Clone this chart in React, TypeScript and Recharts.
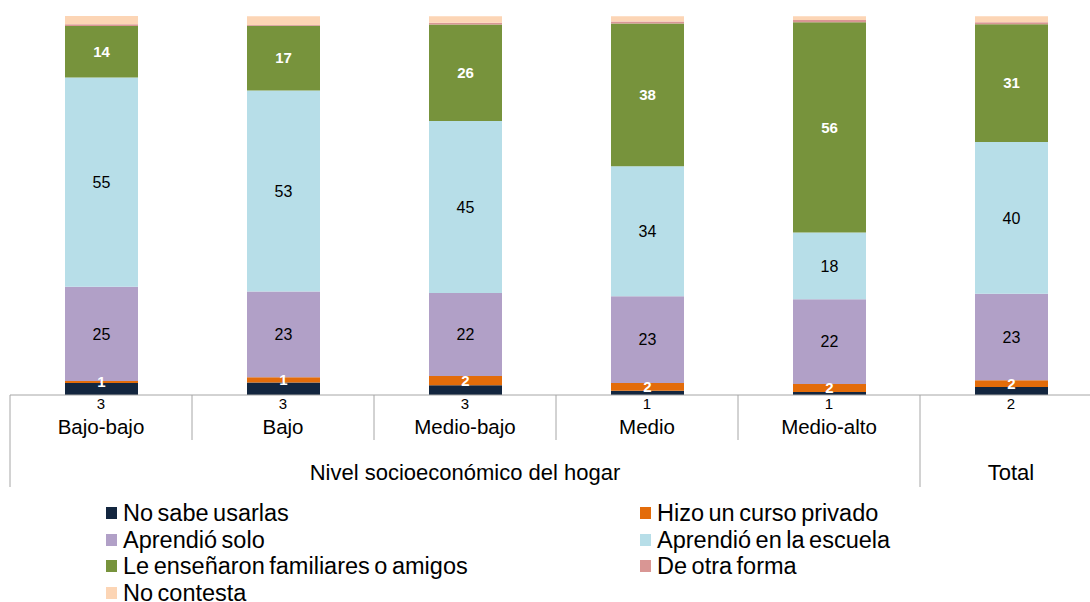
import React from "react";
import { BarChart, Bar, XAxis, YAxis, LabelList } from "recharts";

const categories = ["Bajo-bajo", "Bajo", "Medio-bajo", "Medio", "Medio-alto", "Total"];
const groupLabels = ["Nivel socioeconómico del hogar", "Total"];

const noSabe = [3.2, 3.3, 2.6, 1.1, 0.8, 2.1];
const cursoPrivado = [0.5, 1.4, 2.4, 2.1, 2.1, 1.8];
const aprendioSolo = [24.9, 22.6, 21.9, 22.9, 22.4, 22.8];
const escuela = [55.2, 53.1, 45.4, 34.3, 17.6, 40.1];
const familiares = [13.6, 17.1, 25.5, 37.7, 55.5, 31.1];
const otraForma = [0.45, 0.2, 0.5, 0.5, 0.6, 0.5];
const noContesta = [2.2, 2.3, 1.7, 1.4, 1.0, 1.6];

const series = [
  { key: "noSabe", name: "No sabe usarlas", color: "#13263f", values: noSabe },
  { key: "curso", name: "Hizo un curso privado", color: "#e36c0a", values: cursoPrivado },
  { key: "solo", name: "Aprendió solo", color: "#b1a0c7", values: aprendioSolo },
  { key: "escuela", name: "Aprendió en la escuela", color: "#b7dee8", values: escuela },
  { key: "familia", name: "Le enseñaron familiares o amigos", color: "#77933c", values: familiares },
  { key: "otra", name: "De otra forma", color: "#d99694", values: otraForma },
  { key: "nc", name: "No contesta", color: "#fcd5b5", values: noContesta },
];

const data = categories.map((name, i) => {
  const row: Record<string, any> = { name };
  series.forEach((s) => (row[s.key] = s.values[i]));
  return row;
});

const FONT = "'Liberation Sans', Arial, sans-serif";
const BAND = 182;
const AXIS_GREY = "#a6a6a6";

// two-level category axis: navy value, category, then group row
const CategoryTick = (props: any) => {
  const { x, y, payload } = props;
  const i = payload.index;
  const half = BAND / 2;
  return (
    <g>
      <text x={x} y={y + 14} textAnchor="middle" fontSize={15} fontFamily={FONT} fill="#000">
        {Math.round(noSabe[i])}
      </text>
      {i < 5 && (
        <text x={x} y={y + 39} textAnchor="middle" fontSize={20.5} fontFamily={FONT} fill="#000">
          {categories[i]}
        </text>
      )}
      {i < 4 && <line x1={x + half} x2={x + half} y1={y} y2={y + 45} stroke={AXIS_GREY} />}
      {i === 0 && <line x1={x - half} x2={x - half} y1={y} y2={y + 92} stroke={AXIS_GREY} />}
      {i === 4 && <line x1={x + half} x2={x + half} y1={y} y2={y + 92} stroke={AXIS_GREY} />}
      {i === 2 && (
        <text x={x} y={y + 85} textAnchor="middle" fontSize={22} fontFamily={FONT} fill="#000">
          {groupLabels[0]}
        </text>
      )}
      {i === 5 && (
        <text x={x} y={y + 85} textAnchor="middle" fontSize={22} fontFamily={FONT} fill="#000">
          {groupLabels[1]}
        </text>
      )}
    </g>
  );
};

const labelStyle: Record<string, any> = {
  curso: { fill: "#fff", fontWeight: 700, fontSize: 15 },
  solo: { fill: "#000", fontWeight: 400, fontSize: 16 },
  escuela: { fill: "#000", fontWeight: 400, fontSize: 16 },
  familia: { fill: "#fff", fontWeight: 700, fontSize: 15 },
};

export default function App() {
  const legendRows = [
    [series[0], series[1]],
    [series[2], series[3]],
    [series[4], series[5]],
    [series[6]],
  ];
  return (
    <div
      style={{
        position: "absolute",
        left: 0,
        top: 0,
        width: 1090,
        height: 602,
        overflow: "hidden",
        background: "#fff",
        fontFamily: FONT,
      }}
    >
      <BarChart
        width={1110}
        height={602}
        data={data}
        margin={{ top: 16, right: 8, left: 10, bottom: 107 }}
        barSize={73}
      >
        <XAxis
          dataKey="name"
          height={100}
          tickLine={false}
          tickSize={0}
          tickMargin={0}
          axisLine={{ stroke: AXIS_GREY }}
          interval={0}
          tick={<CategoryTick />}
        />
        <YAxis hide domain={[0, 100]} />
        {series.map((s) => (
          <Bar key={s.key} dataKey={s.key} stackId="a" fill={s.color} isAnimationActive={false}>
            {labelStyle[s.key] && (
              <LabelList
                dataKey={s.key}
                position="center"
                formatter={(v: any) => Math.round(Number(v))}
                fontFamily={FONT}
                {...labelStyle[s.key]}
              />
            )}
          </Bar>
        ))}
      </BarChart>
      {legendRows.map((row, r) =>
        row.map((s, c) => (
          <div
            key={s.key}
            style={{
              position: "absolute",
              left: c === 0 ? 106 : 640,
              top: 501 + r * 26.7,
              height: 24,
              lineHeight: "24px",
              display: "flex",
              alignItems: "center",
              fontSize: 23.5,
              wordSpacing: -2,
              color: "#000",
              whiteSpace: "nowrap",
            }}
          >
            <span style={{ width: 11, height: 12, background: s.color, marginRight: 6, display: "inline-block" }} />
            {s.name}
          </div>
        ))
      )}
    </div>
  );
}
